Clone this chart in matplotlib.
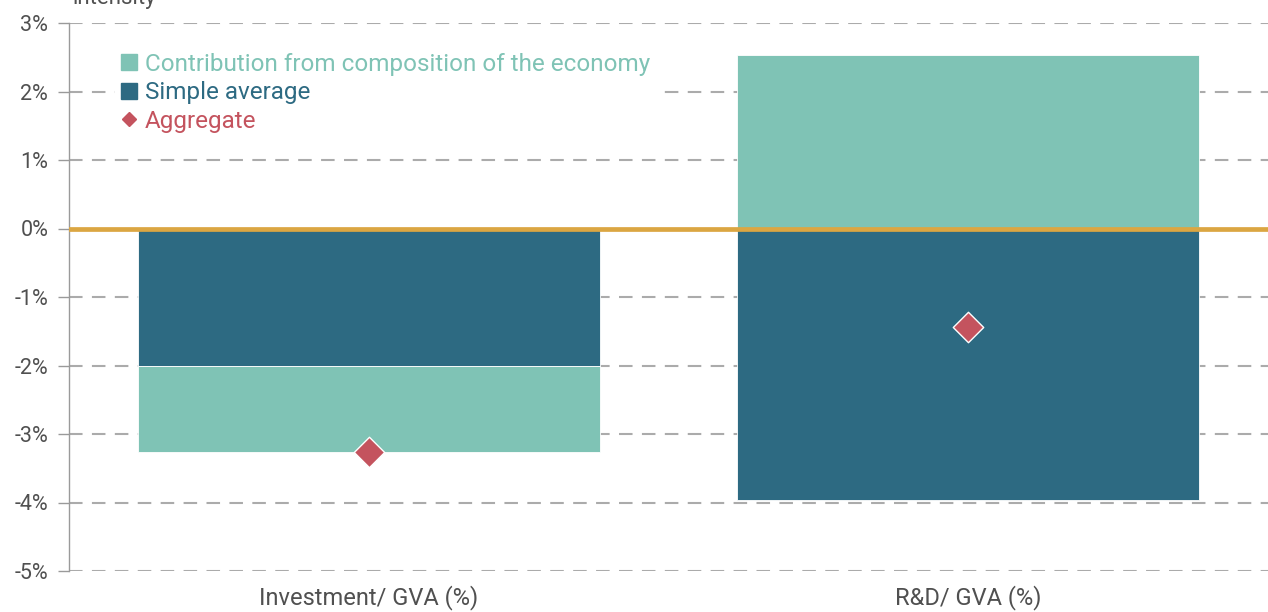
import matplotlib
matplotlib.use("Agg")
import matplotlib.pyplot as plt
from matplotlib.lines import Line2D

plt.rcParams['font.family'] = ['Roboto', 'DejaVu Sans']

categories = ["Investment/ GVA (%)", "R&D/ GVA (%)"]
simple_average = [-2.0, -3.97]
composition = [-1.27, 2.53]
aggregate = [-3.27, -1.44]
yticks = [3, 2, 1, 0, -1, -2, -3, -4, -5]
ytick_labels = ["3%", "2%", "1%", "0%", "-1%", "-2%", "-3%", "-4%", "-5%"]

c_light = "#7FC3B5"
c_dark = "#2D6A82"
c_red = "#C4535E"
c_gold = "#DBA642"
c_grid = "#ABABAB"
c_text = "#505050"

fig = plt.figure(figsize=(12.68, 6.12), dpi=100)
ax = fig.add_axes([69/1268, 1-571/612, 1-69/1268, (571-23)/612])

x = list(range(len(categories)))
w = 0.77
for i in x:
    sa = simple_average[i]
    co = composition[i]
    ax.bar(i, sa, width=w, color=c_dark, edgecolor="white", linewidth=0.6, zorder=2)
    if (co < 0) == (sa < 0):
        ax.bar(i, co, bottom=sa, width=w, color=c_light, edgecolor="white", linewidth=0.6, zorder=2)
    else:
        ax.bar(i, co, bottom=0, width=w, color=c_light, edgecolor="white", linewidth=0.6, zorder=2)

ax.scatter(x, aggregate, marker="D", s=240, color=c_red, edgecolor="white", linewidth=1.0, zorder=5)

ax.axhline(0, color=c_gold, linewidth=3.4, zorder=4)

ax.set_xlim(-0.5, 1.5)
ax.set_ylim(-5, 3)
ax.set_yticks(yticks)
ax.set_yticklabels(ytick_labels)
ax.set_xticks(x)
ax.set_xticklabels(categories)

for t in yticks:
    if t != 0:
        ax.axhline(t, color=c_grid, linewidth=1.5, linestyle=(0, (6.5, 4.5)), zorder=0)

for s in ["top", "right", "bottom"]:
    ax.spines[s].set_visible(False)
ax.spines["left"].set_color("#9A9A9A")
ax.spines["left"].set_linewidth(1.0)
ax.tick_params(axis="y", length=8, color="#9A9A9A", width=1.0, labelsize=15.5, labelcolor=c_text, pad=7)
ax.tick_params(axis="x", length=0, labelsize=17, labelcolor=c_text, pad=10)

handles = [
    Line2D([], [], marker="s", linestyle="none", markersize=12, color=c_light),
    Line2D([], [], marker="s", linestyle="none", markersize=12, color=c_dark),
    Line2D([], [], marker="D", linestyle="none", markersize=7, color=c_red),
]
labels = ["Contribution from composition of the economy", "Simple average", "Aggregate"]
leg = ax.legend(handles, labels, loc="upper left", bbox_to_anchor=(0.038, 0.959),
                frameon=True, facecolor="white", edgecolor="none", framealpha=1,
                fontsize=17.5, handlelength=0.6, handletextpad=0.35, labelspacing=0.23,
                borderpad=0.3, borderaxespad=0)
leg.set_zorder(6)
for txt, col in zip(leg.get_texts(), [c_light, c_dark, c_red]):
    txt.set_color(col)

fig.text(72/1268, 1-4/612, "intensity", fontsize=16, color=c_text, va="baseline", ha="left")

fig.savefig("out.png", dpi=100)
